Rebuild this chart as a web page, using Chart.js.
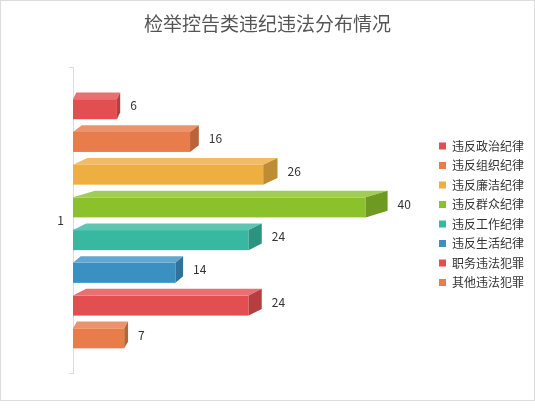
<!DOCTYPE html>
<html>
<head>
<meta charset="utf-8">
<script src="https://cdn.jsdelivr.net/npm/chart.js@4.4.0/dist/chart.umd.min.js"></script>
<style>
  body { margin: 0; background: #fff; }
  #box { width: 535px; height: 401px; box-sizing: border-box; border: 1px solid #dcdcdc; }
  #box canvas { display: block; }
</style>
</head>
<body>
<div id="box"><canvas id="bar-chart" width="533" height="399"></canvas></div>
<script>
// datos
const categories = ['1'];
const seriesNames = ['违反政治纪律', '违反组织纪律', '违反廉洁纪律', '违反群众纪律', '违反工作纪律', '违反生活纪律', '职务违法犯罪', '其他违法犯罪'];
const seriesValues = [6, 16, 26, 40, 24, 14, 24, 7];

// colores: frente, cara superior, lateral
const frontColors = ['#e34e50', '#e87c4a', '#edaf3f', '#8bc12b', '#37b8a0', '#3a91c1', '#e34e50', '#e87c4a'];
const topColors = ['#e87072', '#eb936c', '#f0bd63', '#a2cd55', '#5cc6b2', '#61a7cf', '#e87072', '#eb936c'];
const sideColors = ['#b53e40', '#ba633b', '#be8c32', '#6f9a22', '#2c9380', '#2e749a', '#b53e40', '#ba633b'];

// barras en 3D dibujadas a mano sobre la posicion que da Chart.js
const bar3d = {
    id: 'bar3d',
    beforeDatasetDraw() {
        return false; // no dibujar la barra plana
    },
    afterDatasetsDraw(chart) {
        const ctx = chart.ctx;
        ctx.save();
        chart.data.datasets.forEach((ds, i) => {
            const meta = chart.getDatasetMeta(i);
            if (!chart.isDatasetVisible(i)) return;
            meta.data.forEach((bar, j) => {
                const x0 = bar.base, x1 = bar.x;
                const yT = bar.y - bar.height / 2, yB = bar.y + bar.height / 2;
                const dx = (x1 - x0) * 0.075, dy = 6.7;
                // frente
                ctx.fillStyle = frontColors[i];
                ctx.fillRect(x0, yT + dy, x1 - x0, yB - yT - dy);
                // arriba
                ctx.fillStyle = topColors[i];
                ctx.beginPath();
                ctx.moveTo(x0, yT + dy);
                ctx.lineTo(x0 + dx, yT);
                ctx.lineTo(x1 + dx, yT);
                ctx.lineTo(x1, yT + dy);
                ctx.closePath();
                ctx.fill();
                // lado
                ctx.fillStyle = sideColors[i];
                ctx.beginPath();
                ctx.moveTo(x1, yT + dy);
                ctx.lineTo(x1 + dx, yT);
                ctx.lineTo(x1 + dx, yB - dy);
                ctx.lineTo(x1, yB);
                ctx.closePath();
                ctx.fill();
                // valor
                ctx.fillStyle = '#333';
                ctx.font = '12px "Noto Sans CJK SC", sans-serif';
                ctx.textAlign = 'left';
                ctx.textBaseline = 'middle';
                ctx.fillText(ds.data[j], x1 + dx + 10, bar.y);
            });
        });
        ctx.restore();
    }
};

const ctx1 = document.getElementById('bar-chart').getContext('2d');
const myChart = new Chart(ctx1, {
    type: 'bar',
    data: {
        labels: categories,
        datasets: seriesNames.map((name, i) => ({
            label: name,
            data: [seriesValues[i]],
            backgroundColor: frontColors[i],
            borderWidth: 0,
            categoryPercentage: 0.858,
            barPercentage: 0.817
        }))
    },
    options: {
        indexAxis: 'y',
        responsive: false,
        animation: false,
        layout: {
            padding: { left: 0, right: 0, top: 0, bottom: 27 }
        },
        scales: {
            x: {
                display: false,
                min: 0,
                max: 49
            },
            y: {
                afterFit: (scale) => { scale.width = 72; },
                grid: {
                    drawOnChartArea: false,
                    tickLength: 4,
                    color: '#dcdcdc'
                },
                border: {
                    color: '#dcdcdc'
                },
                ticks: {
                    color: '#333',
                    padding: 5,
                    font: { size: 12, family: '"Noto Sans CJK SC", sans-serif' }
                }
            }
        },
        plugins: {
            title: {
                display: true,
                text: '检举控告类违纪违法分布情况',
                color: '#555',
                font: { size: 19, weight: 'normal', family: '"Noto Sans CJK SC", sans-serif' },
                padding: { top: 11, bottom: 33 }
            },
            legend: {
                position: 'right',
                title: {
                    display: true,
                    text: ' ',
                    padding: { top: 40, bottom: 0 },
                    font: { size: 12 }
                },
                labels: {
                    boxWidth: 7,
                    boxHeight: 7,
                    padding: 7.5,
                    color: '#333',
                    font: { size: 12, family: '"Noto Sans CJK SC", sans-serif' }
                }
            },
            tooltip: { enabled: false }
        }
    },
    plugins: [bar3d]
});
</script>
</body>
</html>
